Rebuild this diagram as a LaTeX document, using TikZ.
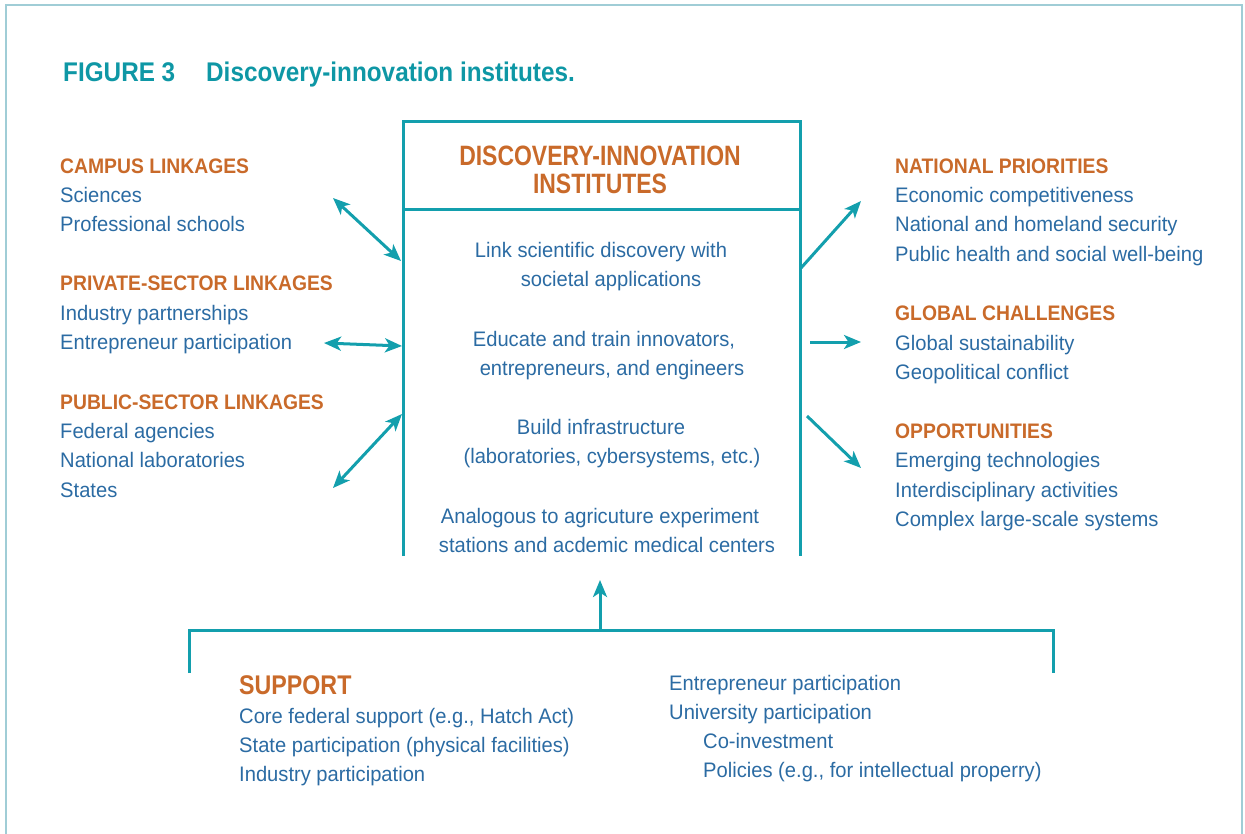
\documentclass[tikz,border=0pt]{standalone}
\usepackage{fontspec}
\setmainfont{Liberation Sans}[FakeStretch=0.96]
\newfontfamily\headf{Liberation Sans}[FakeStretch=0.92]
\newfontfamily\titlef{Liberation Sans}[FakeStretch=0.9]
\newfontfamily\bighead{Liberation Sans}[FakeStretch=0.82]
\newfontfamily\suppf{Liberation Sans}[FakeStretch=0.86]
\usetikzlibrary{arrows.meta}
\definecolor{teal1}{HTML}{139FAD}
\definecolor{titleteal}{HTML}{0E97A5}
\definecolor{orng}{HTML}{C96A2A}
\definecolor{bodyblue}{HTML}{2B6BA3}
\definecolor{framec}{HTML}{A0CDD6}
\begin{document}
\begin{tikzpicture}[x=1pt,y=-1pt,
  head/.style={anchor=base west,inner sep=0pt,text=orng,font=\headf\fontsize{21}{21}\selectfont\bfseries},
  body/.style={anchor=base west,inner sep=0pt,text=bodyblue,font=\fontsize{21}{21}\selectfont},
  cbody/.style={anchor=base,inner sep=0pt,text=bodyblue,font=\fontsize{21}{21}\selectfont},
  ttl/.style={anchor=base west,inner sep=0pt,text=titleteal,font=\titlef\fontsize{27}{27}\selectfont\bfseries},
  chead/.style={anchor=base,inner sep=0pt,text=orng,font=\bighead\fontsize{28}{28}\selectfont\bfseries},
  boxline/.style={draw=teal1,line width=3pt},
  arr/.style={draw=teal1,line width=3pt,-{Stealth[length=17pt,width=14pt,inset=4.5pt]}},
  darr/.style={draw=teal1,line width=3pt,{Stealth[length=17pt,width=14pt,inset=4.5pt]}-{Stealth[length=17pt,width=14pt,inset=4.5pt]}}]
\useasboundingbox (0,0) rectangle (1245,834);
% frame
\draw[framec,line width=2.8pt] (6,840) -- (6,5) -- (1242,5) -- (1242,840);
% title
\node[ttl] (t1) at (63,82) {FIGURE 3};
\node[ttl] (t2) at (206,82) {Discovery-innovation institutes.};
% central box
\draw[boxline] (403,556) -- (403,122) -- (800,122) -- (800,556);
\draw[boxline] (403,210) -- (800,210);
\node[chead] (h1) at (600,166) {DISCOVERY-INNOVATION};
\node[chead] (h2) at (600,194) {INSTITUTES};
\node[cbody] (c1) at (601,258) {Link scientific discovery with};
\node[cbody] (c2) at (611,287) {societal applications};
\node[cbody] (c3) at (604,346) {Educate and train innovators,};
\node[cbody] (c4) at (612,375) {entrepreneurs, and engineers};
\node[cbody] (c5) at (601,434) {Build infrastructure};
\node[cbody] (c6) at (612,463) {(laboratories, cybersystems, etc.)};
\node[cbody] (c7) at (600,523) {Analogous to agricuture experiment};
\node[cbody] (c8) at (607,552) {stations and acdemic medical centers};
% left column
\node[head] (l1) at (60,174) {CAMPUS LINKAGES};
\node[body] (l2) at (60,203) {Sciences};
\node[body] (l3) at (60,232) {Professional schools};
\node[head] (l4) at (60,291) {PRIVATE-SECTOR LINKAGES};
\node[body] (l5) at (60,320) {Industry partnerships};
\node[body] (l6) at (60,349) {Entrepreneur participation};
\node[head] (l7) at (60,409) {PUBLIC-SECTOR LINKAGES};
\node[body] (l8) at (60,438) {Federal agencies};
\node[body] (l9) at (60,467) {National laboratories};
\node[body] (l10) at (60,497) {States};
% right column
\node[head] (r1) at (895,174) {NATIONAL PRIORITIES};
\node[body] (r2) at (895,203) {Economic competitiveness};
\node[body] (r3) at (895,232) {National and homeland security};
\node[body] (r4) at (895,262) {Public health and social well-being};
\node[head] (r5) at (895,321) {GLOBAL CHALLENGES};
\node[body] (r6) at (895,350) {Global sustainability};
\node[body] (r7) at (895,379) {Geopolitical conflict};
\node[head] (r8) at (895,438) {OPPORTUNITIES};
\node[body] (r9) at (895,467) {Emerging technologies};
\node[body] (r10) at (895,497) {Interdisciplinary activities};
\node[body] (r11) at (895,526) {Complex large-scale systems};
% arrow end points
\coordinate (la1) at (333,198); \coordinate (lb1) at (401,261);
\coordinate (la2) at (324,343); \coordinate (lb2) at (402,346);
\coordinate (la3) at (333,488); \coordinate (lb3) at (402,414);
\coordinate (ra1) at (801,268); \coordinate (rb1) at (861,201);
\coordinate (ra2) at (810,342); \coordinate (rb2) at (861,342);
\coordinate (ra3) at (807,416); \coordinate (rb3) at (861,468);
\draw[darr] (la1) -- (lb1);
\draw[darr] (la2) -- (lb2);
\draw[darr] (la3) -- (lb3);
\draw[arr] (ra1) -- (rb1);
\draw[arr] (ra2) -- (rb2);
\draw[arr] (ra3) -- (rb3);
% support bracket
\coordinate (bl) at (189,673); \coordinate (br) at (1053,673);
\coordinate (bm) at (600,630); \coordinate (bt) at (600,580);
\draw[boxline] (bl) |- (br |- bm) -- (br);
\draw[arr] (bm) -- (bt);
\node[anchor=base west,inner sep=0pt,text=orng,font=\suppf\fontsize{27}{27}\selectfont\bfseries] (s0) at (239,694) {SUPPORT};
\node[body] (s1) at (239,723) {Core federal support (e.g., Hatch Act)};
\node[body] (s2) at (239,752) {State participation (physical facilities)};
\node[body] (s3) at (239,781) {Industry participation};
\node[body] (s4) at (669,690) {Entrepreneur participation};
\node[body] (s5) at (669,719) {University participation};
\node[body] (s6) at (703,748) {Co-investment};
\node[body] (s7) at (703,777) {Policies (e.g., for intellectual properry)};
\end{tikzpicture}
\end{document}
